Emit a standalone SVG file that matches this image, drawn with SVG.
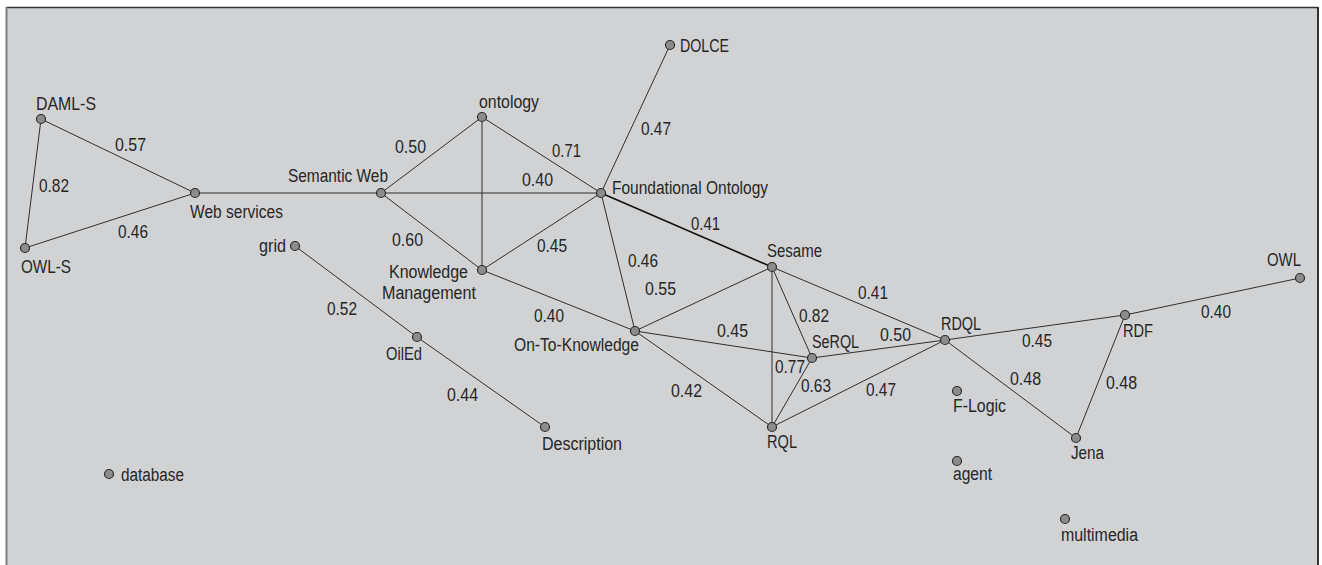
<svg xmlns="http://www.w3.org/2000/svg" width="1322" height="565" viewBox="0 0 1322 565">
  <style>
    .bg { fill: #d1d2d4; }
    .edge { stroke: #2e2e2e; stroke-width: 1; fill: none; }
    .edge.strong { stroke: #111; stroke-width: 1.6; }
    .node circle { fill: #8b8c8e; stroke: #2a2a2a; stroke-width: 1.2; }
    text { font-family: "Liberation Sans", Arial, sans-serif; font-size: 18px; fill: #262626; }
  </style>

  <!-- panel -->
  <rect x="0" y="0" width="1322" height="565" fill="#ffffff"/>
  <rect class="bg" x="6" y="7" width="1312" height="560"/>
  <line x1="6" y1="7.5" x2="1318" y2="7.5" stroke="#333" stroke-width="1.5"/>
  <line x1="6.5" y1="7" x2="6.5" y2="565" stroke="#7c7c7c" stroke-width="2"/>
  <line x1="1318" y1="7" x2="1318" y2="565" stroke="#333" stroke-width="2"/>

  <!-- connectors with similarity weights -->
  <g id="connectors">
    <line class="edge" x1="41" y1="119" x2="195" y2="193"/>
    <line class="edge" x1="41" y1="119" x2="25" y2="248"/>
    <line class="edge" x1="25" y1="248" x2="195" y2="193"/>
    <line class="edge" x1="195" y1="193" x2="381" y2="193"/>
    <line class="edge" x1="381" y1="193" x2="482" y2="117"/>
    <line class="edge" x1="381" y1="193" x2="601" y2="193"/>
    <line class="edge" x1="381" y1="193" x2="482" y2="270"/>
    <line class="edge" x1="482" y1="117" x2="482" y2="270"/>
    <line class="edge" x1="482" y1="117" x2="601" y2="193"/>
    <line class="edge" x1="482" y1="270" x2="601" y2="193"/>
    <line class="edge" x1="670" y1="45" x2="601" y2="193"/>
    <line class="edge strong" x1="601" y1="193" x2="772" y2="267"/>
    <line class="edge" x1="601" y1="193" x2="635" y2="331"/>
    <line class="edge" x1="482" y1="270" x2="635" y2="331"/>
    <line class="edge" x1="635" y1="331" x2="772" y2="267"/>
    <line class="edge" x1="635" y1="331" x2="812" y2="358"/>
    <line class="edge" x1="635" y1="331" x2="772" y2="427"/>
    <line class="edge" x1="772" y1="267" x2="772" y2="427"/>
    <line class="edge" x1="772" y1="267" x2="812" y2="358"/>
    <line class="edge" x1="772" y1="267" x2="945" y2="340"/>
    <line class="edge" x1="812" y1="358" x2="772" y2="427"/>
    <line class="edge" x1="812" y1="358" x2="945" y2="340"/>
    <line class="edge" x1="772" y1="427" x2="945" y2="340"/>
    <line class="edge" x1="945" y1="340" x2="1125" y2="315"/>
    <line class="edge" x1="945" y1="340" x2="1076" y2="438"/>
    <line class="edge" x1="1125" y1="315" x2="1076" y2="438"/>
    <line class="edge" x1="1125" y1="315" x2="1300" y2="278"/>
    <line class="edge" x1="295" y1="246" x2="417" y2="337"/>
    <line class="edge" x1="417" y1="337" x2="545" y2="427"/>

    <text x="115" y="151" textLength="31" lengthAdjust="spacingAndGlyphs">0.57</text>
    <text x="39" y="192" textLength="30" lengthAdjust="spacingAndGlyphs">0.82</text>
    <text x="118" y="238" textLength="30" lengthAdjust="spacingAndGlyphs">0.46</text>
    <text x="395" y="153" textLength="31" lengthAdjust="spacingAndGlyphs">0.50</text>
    <text x="392" y="246" textLength="31" lengthAdjust="spacingAndGlyphs">0.60</text>
    <text x="552" y="157" textLength="29" lengthAdjust="spacingAndGlyphs">0.71</text>
    <text x="522" y="186" textLength="31" lengthAdjust="spacingAndGlyphs">0.40</text>
    <text x="641" y="135" textLength="30" lengthAdjust="spacingAndGlyphs">0.47</text>
    <text x="537" y="252" textLength="30" lengthAdjust="spacingAndGlyphs">0.45</text>
    <text x="691" y="230" textLength="29" lengthAdjust="spacingAndGlyphs">0.41</text>
    <text x="628" y="267" textLength="30" lengthAdjust="spacingAndGlyphs">0.46</text>
    <text x="645" y="295" textLength="31" lengthAdjust="spacingAndGlyphs">0.55</text>
    <text x="534" y="322" textLength="30" lengthAdjust="spacingAndGlyphs">0.40</text>
    <text x="717" y="337" textLength="31" lengthAdjust="spacingAndGlyphs">0.45</text>
    <text x="671" y="397" textLength="31" lengthAdjust="spacingAndGlyphs">0.42</text>
    <text x="799" y="322" textLength="30" lengthAdjust="spacingAndGlyphs">0.82</text>
    <text x="775" y="373" textLength="30" lengthAdjust="spacingAndGlyphs">0.77</text>
    <text x="801" y="392" textLength="30" lengthAdjust="spacingAndGlyphs">0.63</text>
    <text x="858" y="299" textLength="30" lengthAdjust="spacingAndGlyphs">0.41</text>
    <text x="880" y="341" textLength="31" lengthAdjust="spacingAndGlyphs">0.50</text>
    <text x="866" y="396" textLength="30" lengthAdjust="spacingAndGlyphs">0.47</text>
    <text x="1022" y="347" textLength="30" lengthAdjust="spacingAndGlyphs">0.45</text>
    <text x="1010" y="385" textLength="31" lengthAdjust="spacingAndGlyphs">0.48</text>
    <text x="1106" y="389" textLength="31" lengthAdjust="spacingAndGlyphs">0.48</text>
    <text x="1201" y="318" textLength="30" lengthAdjust="spacingAndGlyphs">0.40</text>
    <text x="327" y="315" textLength="30" lengthAdjust="spacingAndGlyphs">0.52</text>
    <text x="447" y="401" textLength="31" lengthAdjust="spacingAndGlyphs">0.44</text>
  </g>

  <!-- nodes -->
  <g id="daml-s" class="node"><circle cx="41" cy="119" r="4.5"/><text x="36" y="110" textLength="60" lengthAdjust="spacingAndGlyphs">DAML-S</text></g>
  <g id="owl-s" class="node"><circle cx="25" cy="248" r="4.5"/><text x="21" y="273" textLength="50" lengthAdjust="spacingAndGlyphs">OWL-S</text></g>
  <g id="web-services" class="node"><circle cx="195" cy="193" r="4.5"/><text x="190" y="218" textLength="93" lengthAdjust="spacingAndGlyphs">Web services</text></g>
  <g id="semantic-web" class="node"><circle cx="381" cy="193" r="4.5"/><text x="288" y="182" textLength="100" lengthAdjust="spacingAndGlyphs">Semantic Web</text></g>
  <g id="grid" class="node"><circle cx="295" cy="246" r="4.5"/><text x="259" y="252" textLength="27" lengthAdjust="spacingAndGlyphs">grid</text></g>
  <g id="ontology" class="node"><circle cx="482" cy="117" r="4.5"/><text x="479" y="108" textLength="60" lengthAdjust="spacingAndGlyphs">ontology</text></g>
  <g id="dolce" class="node"><circle cx="670" cy="45" r="4.5"/><text x="680" y="52" textLength="49" lengthAdjust="spacingAndGlyphs">DOLCE</text></g>
  <g id="foundational-ontology" class="node"><circle cx="601" cy="193" r="4.5"/><text x="612" y="194" textLength="156" lengthAdjust="spacingAndGlyphs">Foundational Ontology</text></g>
  <g id="knowledge-management" class="node"><circle cx="482" cy="270" r="4.5"/><text x="389" y="278" textLength="79" lengthAdjust="spacingAndGlyphs">Knowledge</text><text x="382" y="299" textLength="94" lengthAdjust="spacingAndGlyphs">Management</text></g>
  <g id="sesame" class="node"><circle cx="772" cy="267" r="4.5"/><text x="767" y="257" textLength="55" lengthAdjust="spacingAndGlyphs">Sesame</text></g>
  <g id="on-to-knowledge" class="node"><circle cx="635" cy="331" r="4.5"/><text x="514" y="351" textLength="125" lengthAdjust="spacingAndGlyphs">On-To-Knowledge</text></g>
  <g id="serql" class="node"><circle cx="812" cy="358" r="4.5"/><text x="812" y="348" textLength="47" lengthAdjust="spacingAndGlyphs">SeRQL</text></g>
  <g id="rql" class="node"><circle cx="772" cy="427" r="4.5"/><text x="767" y="448" textLength="30" lengthAdjust="spacingAndGlyphs">RQL</text></g>
  <g id="rdql" class="node"><circle cx="945" cy="340" r="4.5"/><text x="941" y="330" textLength="40" lengthAdjust="spacingAndGlyphs">RDQL</text></g>
  <g id="rdf" class="node"><circle cx="1125" cy="315" r="4.5"/><text x="1123" y="337" textLength="30" lengthAdjust="spacingAndGlyphs">RDF</text></g>
  <g id="owl" class="node"><circle cx="1300" cy="278" r="4.5"/><text x="1267" y="266" textLength="34" lengthAdjust="spacingAndGlyphs">OWL</text></g>
  <g id="jena" class="node"><circle cx="1076" cy="438" r="4.5"/><text x="1071" y="459" textLength="33" lengthAdjust="spacingAndGlyphs">Jena</text></g>
  <g id="f-logic" class="node"><circle cx="957" cy="391" r="4.5"/><text x="953" y="412" textLength="53" lengthAdjust="spacingAndGlyphs">F-Logic</text></g>
  <g id="agent" class="node"><circle cx="957" cy="461" r="4.5"/><text x="953" y="480" textLength="39" lengthAdjust="spacingAndGlyphs">agent</text></g>
  <g id="multimedia" class="node"><circle cx="1065" cy="519" r="4.5"/><text x="1061" y="541" textLength="77" lengthAdjust="spacingAndGlyphs">multimedia</text></g>
  <g id="oiled" class="node"><circle cx="417" cy="337" r="4.5"/><text x="386" y="360" textLength="36" lengthAdjust="spacingAndGlyphs">OilEd</text></g>
  <g id="description" class="node"><circle cx="545" cy="427" r="4.5"/><text x="542" y="450" textLength="80" lengthAdjust="spacingAndGlyphs">Description</text></g>
  <g id="database" class="node"><circle cx="109" cy="474" r="4.5"/><text x="121" y="481" textLength="63" lengthAdjust="spacingAndGlyphs">database</text></g>
</svg>
